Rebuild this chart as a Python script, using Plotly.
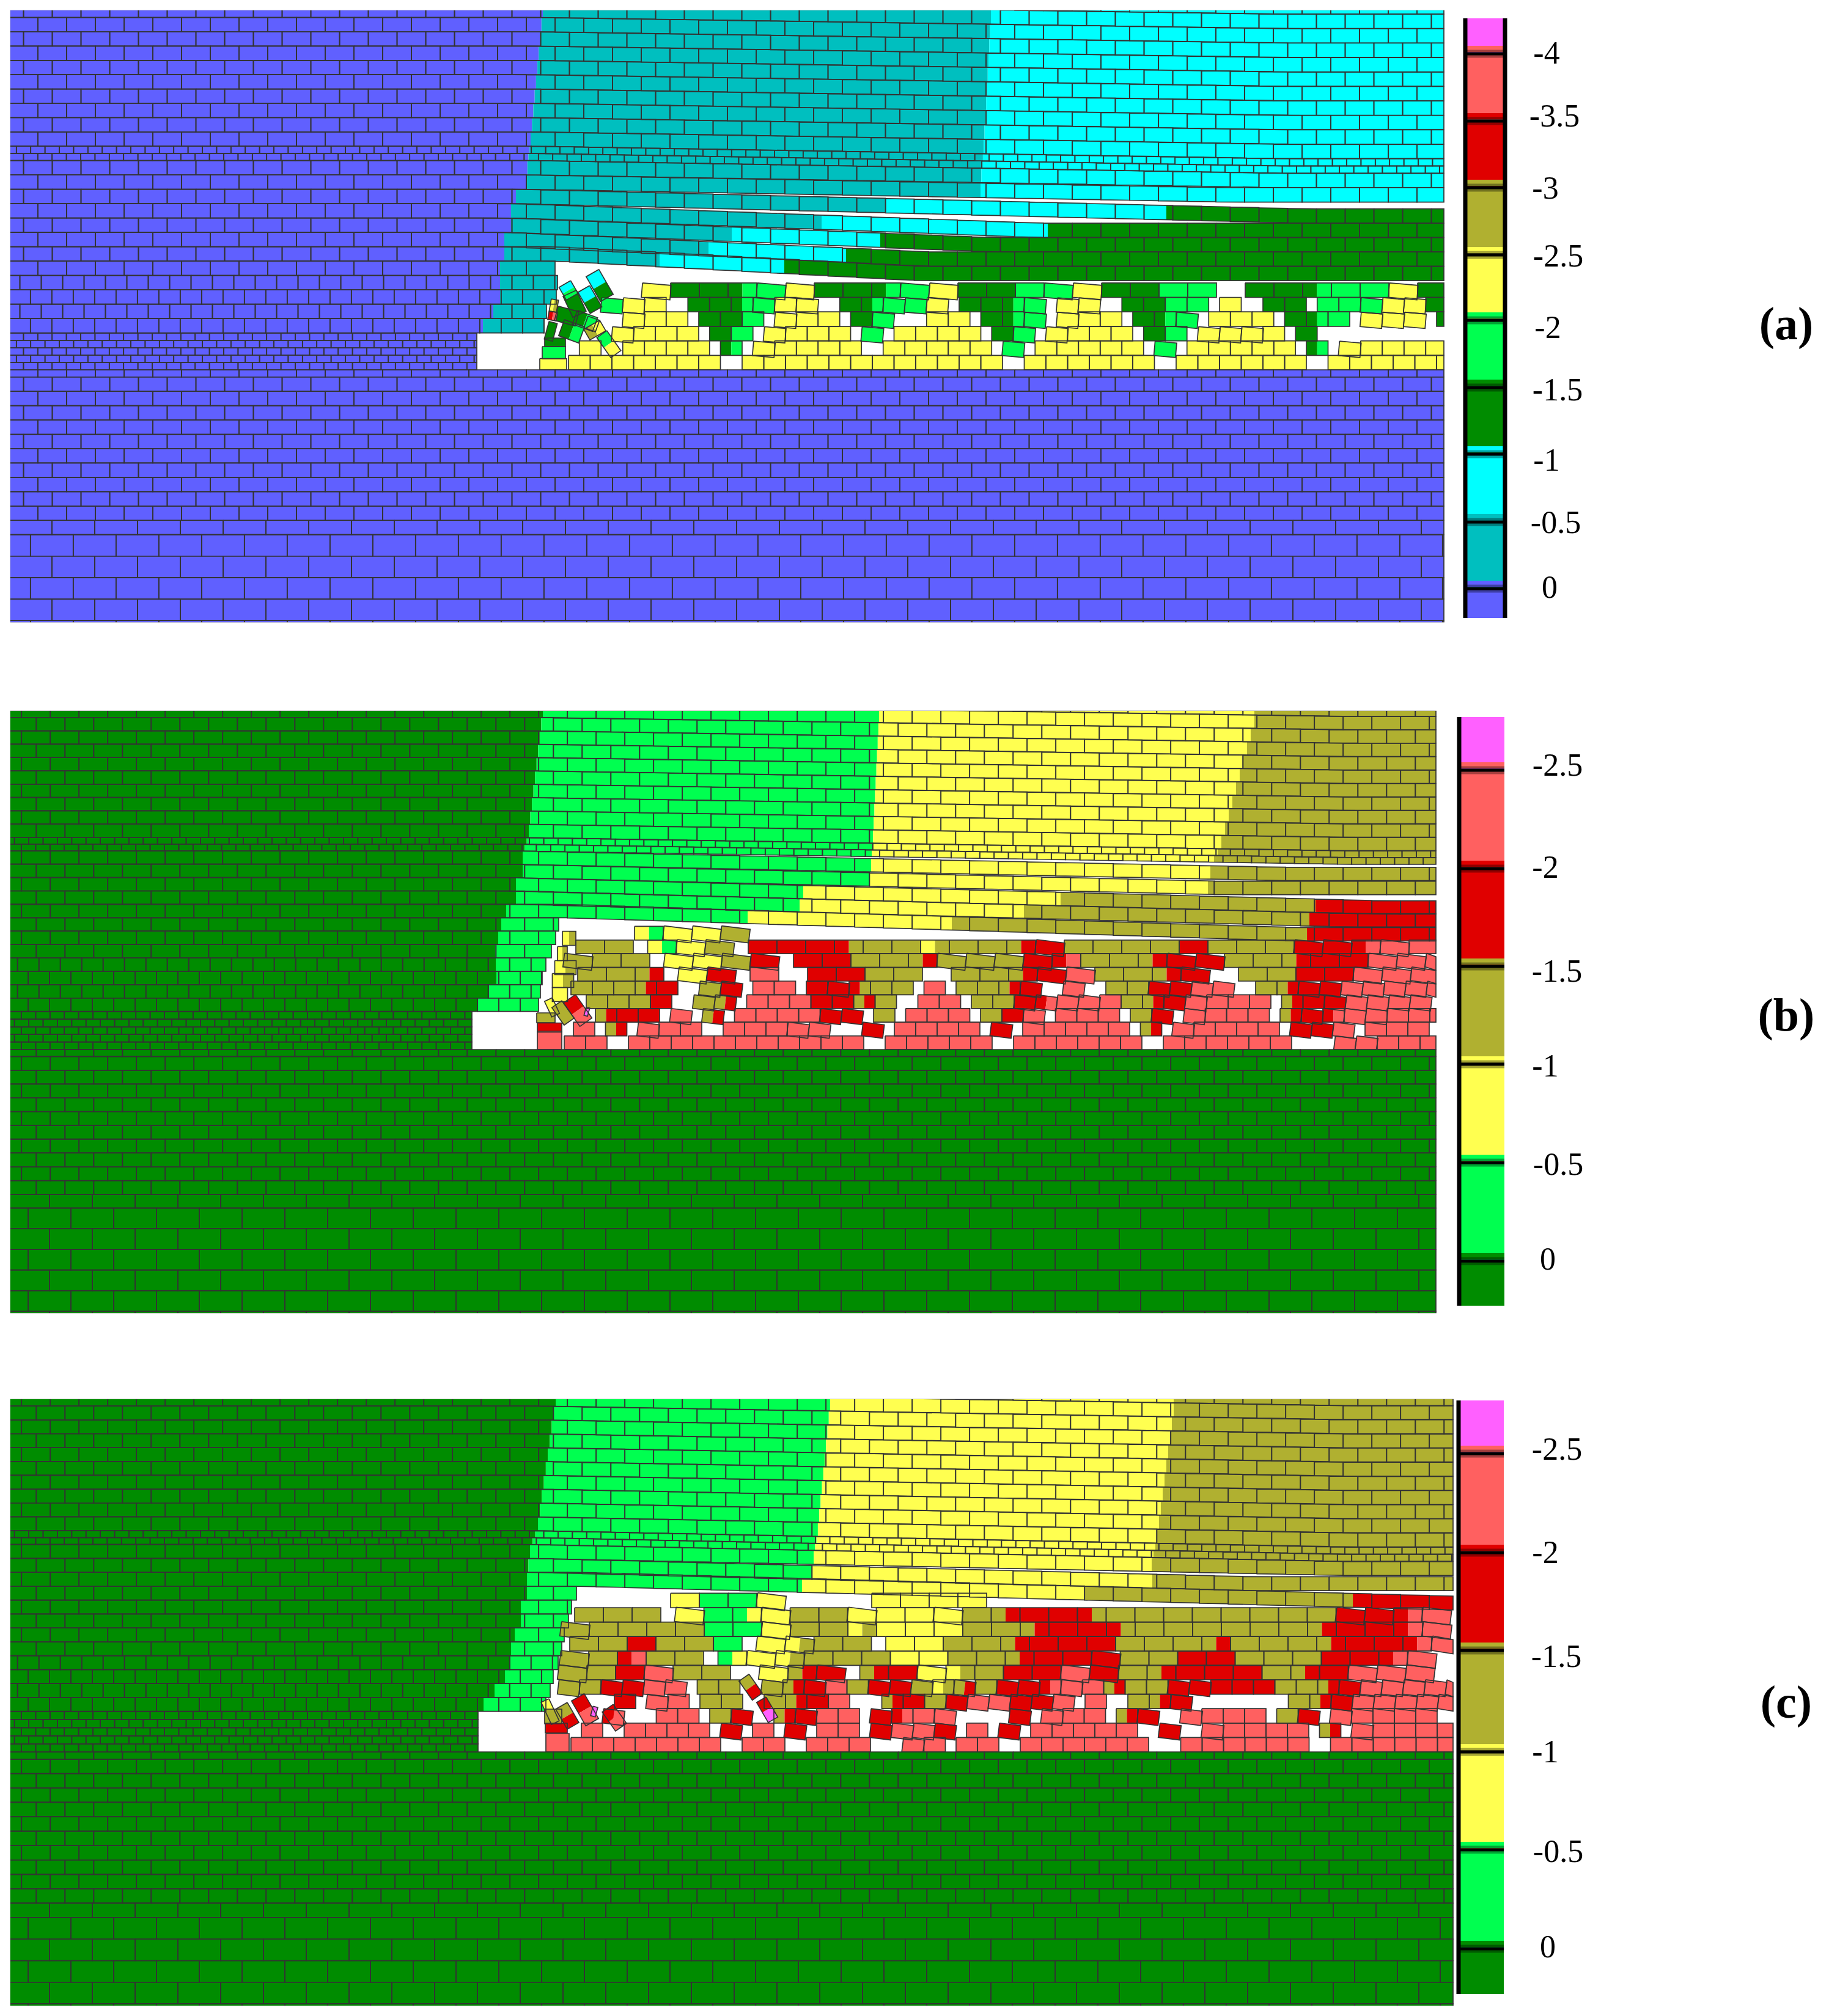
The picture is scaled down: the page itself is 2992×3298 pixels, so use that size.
#!/usr/bin/env python3
import numpy as np
import plotly.graph_objects as go

# displacement colours, code letters are used by the caved zone rows below
COLOR = {"B": "#6060ff", "T": "#00bfbf", "C": "#00ffff", "G": "#008c00", "L": "#00ff50",
         "Y": "#ffff50", "O": "#b0b030", "R": "#e00000", "S": "#ff6060", "M": "#ff60ff"}
LINE = "#333333"

# panel frames
PANEL_NAMES = ["a", "b", "c"]
PANEL_LEFT = [16, 16, 16]
PANEL_RIGHT = [2362, 2349, 2377]
PANEL_TOP = [16, 1162, 2288]
BOX_TOP = [545, 1655, 2800]
FLOOR = [605, 1717, 2866]
PANEL_BOTTOM = [1019, 2149, 3282]
BOX_LEFT = [780, 772, 782]
BIG_ROWS = [4, 5, 4]
LOWEST_ROOF = [18, 16, 14]
TILT = [5, 7, 7]

# contour bands of the roof, per row of the model
ZONE_COLORS = [["B", "T", "C", "G"], ["G", "L", "Y", "O", "R"], ["G", "L", "Y", "O", "R"]]
ZONES_A = [
    ([0, 9, 13, 14, 15, 16, 17, 18, 19, 21, 22, 23], [888, 868, 861, 844, 836, 836, 825, 825, 818, 818, 807, 790]),
    ([0, 13, 14, 15, 16, 17, 18], [1621, 1604, 1447, 1344, 1197, 1159, 1079]),
    ([13, 14, 15, 16, 17, 18], [2500, 1908, 1714, 1440, 1384, 1283]),
]
ZONES_B = [
    ([0, 9, 12, 13, 14, 15, 16, 17, 18, 19, 20, 21, 22, 23], [888, 865, 855, 855, 844, 844, 828, 820, 815, 810, 811, 812, 800, 782]),
    ([0, 12, 13, 14, 15, 16], [1438, 1425, 1423, 1314, 1308, 1223]),
    ([0, 12, 13, 14, 15, 16], [2052, 1980, 1976, 1735, 1675, 1557]),
    ([13, 14, 15, 16], [2600, 2152, 2142, 2138]),
]
ZONES_C = [
    ([0, 9, 12, 14, 15, 16, 17, 18, 19, 20, 21, 22, 23], [909, 880, 867, 862, 862, 852, 852, 842, 836, 835, 826, 809, 791]),
    ([0, 13, 14], [1358, 1329, 1312]),
    ([0, 12, 13, 14], [1920, 1884, 1885, 1774]),
    ([13, 14], [2600, 2213]),
]
ZONES = [ZONES_A, ZONES_B, ZONES_C]

# bending of the roof rows: row, start of sag, end of sag, final sag
SAG_ROWS = [[0, 12, 13, 14, 15, 16, 17, 18], [0, 11, 12, 13, 14, 15, 16], [0, 12, 13, 14]]
SAG_START = [[880, 870, 860, 845, 840, 830, 830, 908], [880, 840, 830, 830, 830, 850, 922], [880, 870, 870, 945]]
SAG_END = [[2100, 2100, 2010, 2130, 1700, 1620, 1520, 1500], [2200, 2200, 2100, 2000, 2260, 2200, 2120], [2200, 2200, 2050, 2377]]
SAG_MAX = [[18, 21, 21, 32, 32, 32, 32, 32], [20, 22, 27, 28, 38, 37, 38], [22, 28, 30, 39]]

# edge of the rib beside the goaf
RIB_ROWS = [[19, 20, 21, 22, 23], [17, 18, 19, 20, 21, 22, 23], [15, 16, 17, 18, 19, 20, 21, 22, 23]]
RIB_X = [[908, 912, 910, 894, 890], [914, 909, 902, 893, 887, 884, 881], [943, 935, 930, 923, 919, 913, 905, 900, 893]]

# first joint of the alternating rows (even row, odd row)
JOINT_47 = [(-8.5, 15), (-11.8, 12.3), (-11.8, 12.3)]
JOINT_35 = [(-2.5, 14.8), (-6.3, 11), (-6.3, 11)]
JOINT_THIN_UP = [(3.4, 15), (0.3, 11.6), (0.3, 11.6)]
JOINT_THIN_LOW = [(15, 3.4), (11.6, 0.3), (11.6, 0.3)]
JOINT_LOW_47 = [(15, -8.5), (12.3, -11.8), (12.3, -11.8)]
JOINT_LOW_70 = [(-20.2, 15), (-24, 11), (-24, 11)]

# caved rows, bottom row first: Y yellow, G green ... lower case = tilted block,
# A/B = block with a contour through it, . = missing block, _ = half a block
CAVED_A = [(930, 35.5, "Y*7 . Y*12 . Y*6 . Y*6 . Y*6"),
           (930, 35.5, "_ Y . Y*4 _ G/L _ y Y*4 . Y*5 _ l _ Y*5 _ l _ Y*5 _ G/L _ y Y*4"),
           (930, 35.5, ". . y Y*3 _ G L _ y Y*3 _ l _ Y*4 _ G l _ y Y*3 _ G L _ y*3 Y _ G"),
           (930, 35.5, "_ . . y Y*2 _ G*2 L _ y Y*2 _ G l . _ Y*2 _ G G/L l _ y Y*2 _ G G/L l _ Y*3 _ G G/L L _ y*3 _ G"),
           (930, 35.5, "_ . l y Y . G*2 G/L l Y y . G G/L l*2 y _ G*2 G/L l _ y*2 . G*2 L*2 _ Y . G*2 _ L*2 l y*2 G"),
           (1050, 47, "y G*2 G/L l y G*2 G/L l y G*2 L l y G*2 L*2 . G*2 G/L L*2 y G")]
CAVED_B = [(923, 35, "S*2 . S*11 . S*5 . S*6 . S*6 . . s*2 S*3"),
           (938, 35, "S _ O/R _ s S*2 . S*3 s*2 . _ r _ S*4 _ r _ S*5 _ O/R _ s S*4 _ r*2 s _ S*3"),
           (974, 35, "O/R R*2 _ s _ o/r _ S*4 r*2 _ O _ S*3 _ O R s _ S*3 _ O r _ s S*3 _ O/R r R/S s*2 S*3"),
           (959, 35, "O*3 R . o o/r _ S*3 R*2 O/R O . S*2 _ O*2 r r/s s*2 S O O/R r s S*3 _ O/R R r s*4"),
           (934, 35, "O*3 O/R R . o r _ S*2 _ R r R/O O*2 _ S _ O*2 O/R r . s _ _ O*2 r*2 s*2 . O O/R r*2 s*5"),
           (945, 47, "O*2 O/R _ y r _ S . R*2 O*2 . O*2 O/R r s O*2 O/R r . O*2 R*2 s*3"),
           (922, 47, "o O*2 _ y*2 o r _ R*2 O*2 O/R o*3 r R/S O*2 O/R r*2 O*2 O/R R*2 s*3"),
           (942, 47, "O*2 _ Y/L y o _ R*3 R/O O*2 Y/O O*2 O/R r O*4 R O*3 r*2 R/S s S"),
           (1038, 47, "Y/L y*2 o")]
CAVED_C = [(934, 35, "S*7 . S*2 . S*3 _ . s S _ S*2 _ _ S*6 _ . S*6 . S*6"),
           (951, 35, "S . S*4 _ r _ S _ r _ S*2 _ r s*2 r _ S _ r _ S*5 _ _ r _ _ s S*4 _ O/R _ s S*4"),
           (986, 35, "r/s . _ S*2 _ O r . O/R r S*2 _ r R/S S s . . _ r _ s S*2 _ O/R r _ _ s S*3 _ O r _ s S*4"),
           (1005, 35, "R _ s S _ O*2 . O O/R R S . _ O/R R O r s*2 r*2 s _ S _ _ O O/R r . . . . _ O O/R r s*5"),
           (913, 35, "o O r*2 s*2 _ O*2 . o O/R r S O r*2 o Y/O o/r O r*2 R/S s S O/R O*2 r*2 R*3 O*2 O/R r s*5"),
           (913, 47, "o O R s O*2 _ _ y O/R r _ O/R R y Y/O O R*2 s r O O/R R*3 O O/R R s*3"),
           (916, 47, "o O R/S O*2 _ L/Y y y/o O*3 Y*2 O*2 O/R R*2 r O*2 R*2 O*3 R*2 R/S s"),
           (932, 47, "O*2 R O*2 L _ y y/o O*2 _ Y*2 O*2 O/R R*3 O*3 O/R O*3 O/R R*2 R/S s"),
           (917, 47, "o O*4 L*2 y O*2 Y/O Y*3 O*2 O/R R*2 R/O O*6 O/R R*2 R/S s"),
           (940, 47, "O*3 _ y L L/Y y O*2 y Y*2 y O O/R R*2 R/O O*8 r*2 R/S s"),
           (1097, 47, "Y L*2 y . . . Y*4")]
CAVED = [CAVED_A, CAVED_B, CAVED_C]
CAVED_ROW_H = [23.7, 22.4, 23.6]

# loose blocks next to the rib: centre x, centre y, length, height, angle, colours
LOOSE_A = [(981, 467, 47, 24, 60, "C", "G"), (930, 475, 24, 22, 60, "C", "L"), (965, 490, 40, 22, 60, "C", "G"),
           (940, 497, 38, 24, 65, "G", "G"), (927, 517, 35, 24, 15, "G", "G"), (957, 525, 35, 24, 20, "G", "L"),
           (906, 500, 12, 20, 10, "Y", "O"), (904, 517, 14, 14, 10, "R", "S"), (935, 542, 35, 28, 20, "G", "L"),
           (973, 540, 30, 20, -30, "O", "Y"), (901, 542, 14, 30, 15, "G", "G"), (996, 563, 40, 20, 55, "L", "Y"),
           (968, 530, 20, 20, 20, "G", "L"), (908, 560, 34, 14, 0, "G", "G"), (906, 577, 38, 20, 0, "L", "L"),
           (905, 596, 44, 19, 0, "Y", "Y")]
LOOSE_B = [(931, 1535, 22, 23, 0, "Y", "O"), (920, 1560, 16, 23, 0, "Y", "O"), (925, 1583, 35, 23, 0, "Y", "O"),
           (921, 1604, 35, 23, 0, "Y", "O"), (916, 1627, 25, 23, 0, "Y", "Y"), (903, 1648, 28, 14, 65, "Y", "Y"),
           (921, 1657, 35, 20, 55, "O", "O"), (945, 1653, 47, 24, 55, "R", "S"), (960, 1655, 6, 14, 15, "M", "M"),
           (893, 1665, 30, 16, 0, "O", "O"), (899, 1681, 40, 15, 0, "R", "R"), (899, 1702, 40, 30, 0, "S", "S")]
LOOSE_C = [(900, 2800, 40, 14, 65, "Y", "O"), (928, 2807, 38, 22, 60, "O", "R"), (957, 2797, 47, 24, 60, "R", "S"),
           (972, 2800, 8, 16, 15, "M", "M"), (1005, 2810, 38, 22, 55, "R", "S"), (1228, 2760, 38, 20, 55, "O", "R"),
           (1255, 2797, 38, 18, 60, "R", "M"), (905, 2808, 28, 24, 0, "O", "O"), (910, 2827, 36, 16, 0, "R", "R"),
           (912, 2851, 38, 30, 0, "S", "S")]
LOOSE = [LOOSE_A, LOOSE_B, LOOSE_C]

# colour scales
BAR_COLORS = [list("MSROYLGCTB"), list("MSROYLG"), list("MSROYLG")]
BAR_LEFT = [2394, 2384, 2383]
BAR_RIGHT = [2465, 2461, 2460]
BAR_EDGES = [[30, 88, 198, 307, 417, 524, 634, 743, 854, 963, 1011],
             [1173, 1260, 1421, 1581, 1741, 1902, 2063, 2136],
             [2291, 2378, 2540, 2700, 2866, 3026, 3188, 3262]]
BAR_LABELS = [["-4", "-3.5", "-3", "-2.5", "-2", "-1.5", "-1", "-0.5", "0"],
              ["-2.5", "-2", "-1.5", "-1", "-0.5", "0"],
              ["-2.5", "-2", "-1.5", "-1", "-0.5", "0"]]
LABEL_X = [[2530, 2543, 2528, 2549, 2532, 2548, 2530, 2545, 2535],
           [2548, 2528, 2547, 2528, 2549, 2532],
           [2547, 2528, 2546, 2528, 2549, 2532]]
LABEL_Y = [[91, 194, 312, 423, 540, 642, 757, 859, 965],
           [1256, 1423, 1593, 1748, 1909, 2064],
           [2375, 2544, 2714, 2870, 3033, 3189]]
TAG_X = [2922, 2922, 2922]
TAG_Y = [536, 1667, 2791]

fills = {k: ([], []) for k in COLOR}
out_x, out_y = [], []


def add_poly(color, xs, ys):
    fx, fy = fills[color]
    fx.extend(xs + [xs[0], None])
    fy.extend(ys + [ys[0], None])


def add_outline(xs, ys):
    out_x.extend(xs + [xs[0], None])
    out_y.extend(ys + [ys[0], None])


def roof_row(p, idx, ytop, ybot, width, start):
    left, right = PANEL_LEFT[p], PANEL_RIGHT[p]
    limit = right
    lowest = LOWEST_ROOF[p]
    if idx >= 24:
        limit = BOX_LEFT[p]
    elif idx > lowest:
        limit = np.interp(idx, RIB_ROWS[p], RIB_X[p])
    sagged = idx <= lowest

    def sag(x):
        if not sagged:
            return 0.0
        s = np.interp(idx, SAG_ROWS[p], SAG_MAX[p])
        x0 = np.interp(idx, SAG_ROWS[p], SAG_START[p])
        x1 = np.interp(idx, SAG_ROWS[p], SAG_END[p])
        return s * float(np.clip((x - x0) / (x1 - x0), 0, 1))

    colors = ZONE_COLORS[p]
    cuts = [float(np.interp(max(idx, 0), r, x)) for r, x in ZONES[p]]
    top = PANEL_TOP[p]
    x = start
    while x < limit:
        xl, xr = max(x, left), min(x + width, limit)
        x += width
        if xr <= xl:
            continue
        mid = 0.5 * (xl + xr)
        sc = sag(mid)
        dl = sc + 0.7 * (sag(xl) - sc)
        dr = sc + 0.7 * (sag(xr) - sc)

        def yy(px, y0):
            t = (px - xl) / (xr - xl)
            return max(top, y0 + dl + t * (dr - dl))

        edges = [xl] + [c for c in cuts if xl < c < xr] + [xr]
        for a, b in zip(edges[:-1], edges[1:]):
            zone = sum(1 for c in cuts if c <= 0.5 * (a + b))
            add_poly(colors[zone], [a, b, b, a], [yy(a, ytop), yy(b, ytop), yy(b, ybot), yy(a, ybot)])
        add_outline([xl, xr, xr, xl], [yy(xl, ytop), yy(xr, ytop), yy(xr, ybot), yy(xl, ybot)])


def block(p, cx, cy, w, h, angle, c1, c2):
    ang = np.radians(angle)
    ca, sa = np.cos(ang), np.sin(ang)
    right = PANEL_RIGHT[p]
    floor = FLOOR[p]

    def poly(us, vs):
        pts = [(min(right, cx + u * ca - v * sa), min(floor, cy + u * sa + v * ca)) for u, v in zip(us, vs)]
        return [q[0] for q in pts], [q[1] for q in pts]

    hw, hh = w / 2, h / 2
    if c1 == c2:
        px, py = poly([-hw, hw, hw, -hw], [-hh, -hh, hh, hh])
        add_poly(c1, px, py)
    else:
        px, py = poly([-hw, 0, 0, -hw], [-hh, -hh, hh, hh])
        add_poly(c1, px, py)
        px, py = poly([0, hw, hw, 0], [-hh, -hh, hh, hh])
        add_poly(c2, px, py)
    px, py = poly([-hw, hw, hw, -hw], [-hh, -hh, hh, hh])
    add_outline(px, py)


def caved_row(p, r, x0, w, tokens):
    h = CAVED_ROW_H[p]
    yb = FLOOR[p] - r * h
    x = x0
    for tok in tokens.split():
        count = 1
        if "*" in tok:
            tok, n = tok.split("*")
            count = int(n)
        for _ in range(count):
            if tok == "_":
                x += w / 2
                continue
            if tok == ".":
                x += w
                continue
            parts = tok.split("/")
            tilted = tok[0].islower()
            c1, c2 = parts[0].upper(), parts[-1].upper()
            if x < PANEL_RIGHT[p]:
                block(p, x + w / 2, yb - h / 2 + (2 if tilted else 0), w, h, TILT[p] if tilted else 0, c1, c2)
            x += w


def build_panel(p):
    top, box, floor, bottom = PANEL_TOP[p], BOX_TOP[p], FLOOR[p], PANEL_BOTTOM[p]
    k_main = (box - top) / 529.0
    k_thin = (floor - box) / 60.0
    # roof and rib rows: two rows above the frame are cut off at the top edge
    y = top + (12.6 - 3 * 23.4) * k_main
    rows = [(i, 23.4, 47) for i in range(-2, 10)]
    rows += [(i, 11.7, 23.4) for i in (10, 11)]
    rows += [(i, 23.5, 47) for i in range(12, 20)]
    rows += [(i, 23.5, 35) for i in range(20, 24)]
    for idx, hgt, w in rows:
        hgt = hgt * k_main
        if w == 47:
            s = JOINT_47[p][idx % 2]
        elif w == 35:
            s = JOINT_35[p][idx % 2]
        else:
            s = JOINT_THIN_UP[p][idx % 2]
        roof_row(p, idx, y, y + hgt, w, s)
        y += hgt
    y = box
    for idx in range(24, 29):
        hgt = 12 * k_thin
        roof_row(p, idx, y, y + hgt, 23.4, JOINT_THIN_LOW[p][idx % 2])
        y += hgt
    # rows under the floor
    k_low = (bottom - floor) / (11.7 + 234 + 23.4 + 35.0 * BIG_ROWS[p] + 4.0)
    y = floor
    low = [(11.7, 47)] + [(23.4, 47)] * 10 + [(23.4, 70)] + [(35.0, 70)] * (BIG_ROWS[p] + 1)
    for i, (hgt, w) in enumerate(low):
        hgt = hgt * k_low
        x = JOINT_LOW_47[p][i % 2] if w == 47 else JOINT_LOW_70[p][i % 2]
        ybot = min(y + hgt, bottom)
        while x < PANEL_RIGHT[p]:
            xl, xr = max(x, PANEL_LEFT[p]), min(x + w, PANEL_RIGHT[p])
            x += w
            if xr <= xl:
                continue
            c = ZONE_COLORS[p][0]
            add_poly(c, [xl, xr, xr, xl], [y, y, ybot, ybot])
            add_outline([xl, xr, xr, xl], [y, y, ybot, ybot])
        y += hgt
        if y >= bottom:
            break
    for r, (x0, w, tokens) in enumerate(CAVED[p]):
        caved_row(p, r, x0, w, tokens)
    for item in LOOSE[p]:
        block(p, *item)


for p in range(3):
    build_panel(p)

fig = go.Figure()
for code, (fx, fy) in fills.items():
    if fx:
        fig.add_trace(go.Scatter(x=fx, y=fy, mode="lines", fill="toself", fillcolor=COLOR[code],
                                 line=dict(width=0, color=COLOR[code]), hoverinfo="skip", showlegend=False))
fig.add_trace(go.Scatter(x=out_x, y=out_y, mode="lines", line=dict(color=LINE, width=1.7),
                         hoverinfo="skip", showlegend=False))


def bar_line(xs, ys, color, width, opacity=1.0):
    fig.add_trace(go.Scatter(x=xs, y=ys, mode="lines", opacity=opacity, line=dict(color=color, width=width),
                             hoverinfo="skip", showlegend=False))


for p in range(3):
    # the model image has no border on its top, left and bottom sides
    bar_line([PANEL_LEFT[p] - 1, PANEL_RIGHT[p] + 2], [PANEL_TOP[p] - 0.5] * 2, "white", 2.4)
    bar_line([PANEL_LEFT[p] - 1, PANEL_RIGHT[p] + 2], [PANEL_BOTTOM[p] + 0.5] * 2, "white", 2.4)
    bar_line([PANEL_LEFT[p] - 0.5] * 2, [PANEL_TOP[p] - 1, PANEL_BOTTOM[p] + 1], "white", 2.4)

# colour scales
for p in range(3):
    codes = BAR_COLORS[p]
    n = len(codes)
    edges = BAR_EDGES[p]
    scale = []
    for i, c in enumerate(codes):
        scale += [[i / n, COLOR[c]], [(i + 1) / n, COLOR[c]]]
    fig.add_trace(go.Heatmap(x=[BAR_LEFT[p], BAR_RIGHT[p]], y=edges, z=[[i] for i in range(n)],
                             colorscale=scale, zmin=-0.5, zmax=n - 0.5, showscale=False, hoverinfo="skip"))
    xs = [BAR_LEFT[p], BAR_RIGHT[p]]
    for i, y in enumerate(edges[1:-1]):
        # the band below bleeds over the separator in the original scale
        bar_line(xs, [y - 8, y - 8], COLOR[codes[i + 1]], 10)
        bar_line(xs, [y, y], "black", 13, 0.35)
        bar_line(xs, [y, y], "black", 5)
    bar_line([BAR_LEFT[p] + 3] * 2, [edges[0], edges[-1]], "black", 7)
    if p == 0:
        bar_line([BAR_RIGHT[p] - 3] * 2, [edges[0], edges[-1]], "black", 7)
    fig.add_trace(go.Scatter(x=LABEL_X[p], y=LABEL_Y[p], mode="text", text=BAR_LABELS[p],
                             textposition="middle center",
                             textfont=dict(family="Liberation Serif", size=52, color="black"),
                             hoverinfo="skip", showlegend=False))
    fig.add_trace(go.Scatter(x=[TAG_X[p]], y=[TAG_Y[p]], mode="text",
                             text=["<b>(" + PANEL_NAMES[p] + ")</b>"], textposition="middle center",
                             textfont=dict(family="Liberation Serif", size=76, color="black"),
                             hoverinfo="skip", showlegend=False))

fig.update_layout(width=2992, height=3298, margin=dict(l=0, r=0, t=0, b=0),
                  plot_bgcolor="white", paper_bgcolor="white", showlegend=False)
fig.update_xaxes(range=[0, 2992], visible=False, domain=[0, 1])
fig.update_yaxes(range=[3298, 0], visible=False, domain=[0, 1])
fig.write_html("out.html", config=dict(displayModeBar=False),
               post_script="document.body.style.margin='0';")
